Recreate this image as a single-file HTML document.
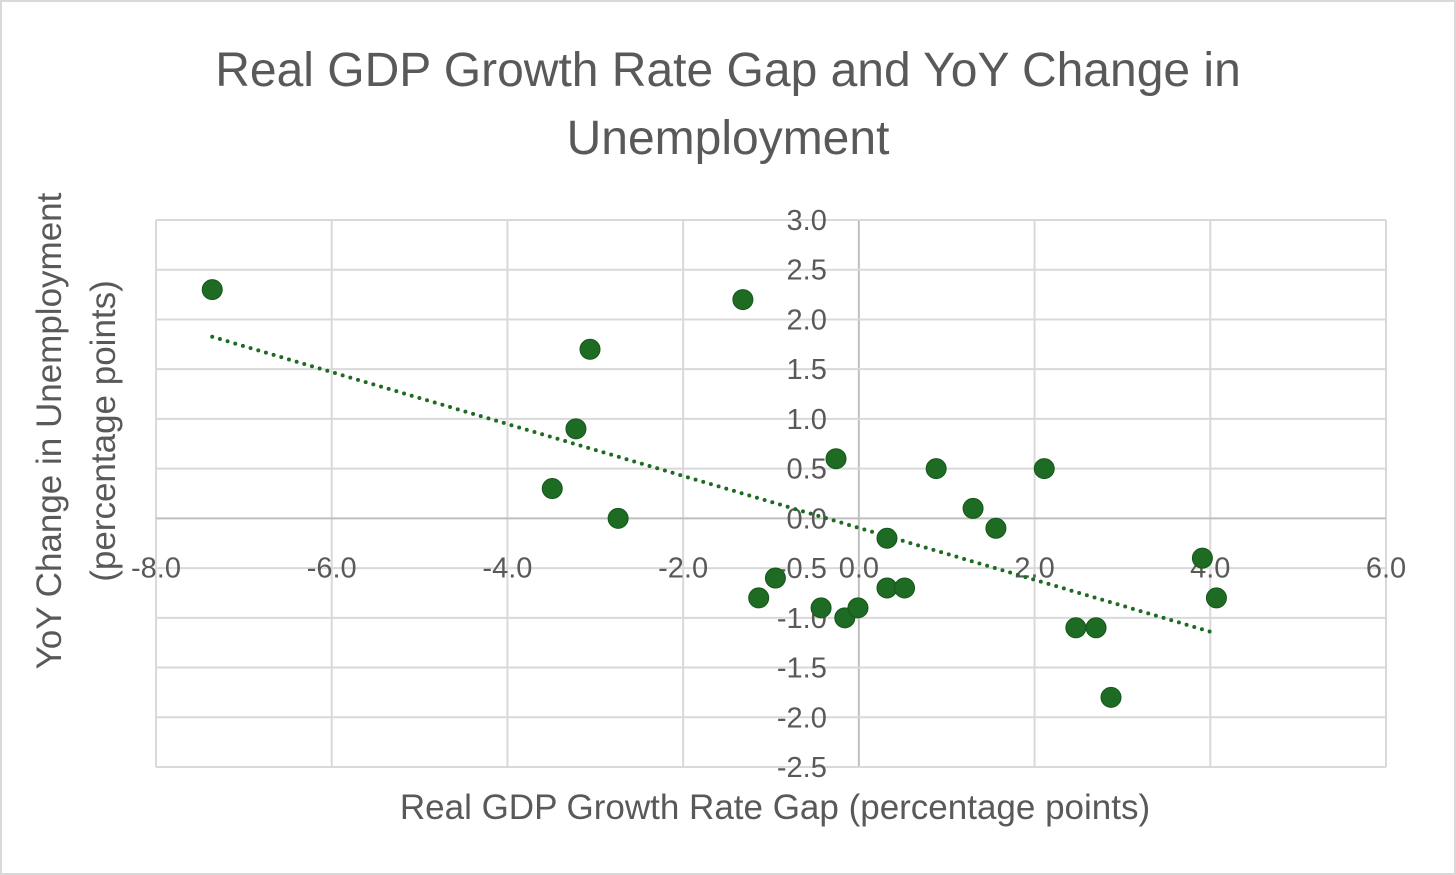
<!DOCTYPE html>
<html><head><meta charset="utf-8"><style>
body{margin:0;background:#fff;}
svg{display:block;font-family:"Liberation Sans",sans-serif;}
</style></head><body>
<svg id="chart" width="1456" height="875">
<rect x="1" y="1" width="1454" height="873" fill="#fff" stroke="#d9d9d9" stroke-width="2"/>
<text x="728" y="86" text-anchor="middle" font-size="48" fill="#595959">Real GDP Growth Rate Gap and YoY Change in</text>
<text x="728" y="154" text-anchor="middle" font-size="48" fill="#595959">Unemployment</text>
<g id="grid"></g><g id="axes"></g><g id="trend"></g><g id="pts"></g>
<text x="775" y="819" text-anchor="middle" font-size="35" fill="#595959">Real GDP Growth Rate Gap (percentage points)</text>
<text transform="translate(61,431) rotate(-90)" text-anchor="middle" font-size="35" fill="#595959">YoY Change in Unemployment</text>
<text transform="translate(115,431) rotate(-90)" text-anchor="middle" font-size="35" fill="#595959">(percentage points)</text>
</svg>
<script>
const xTicks=[-8,-6,-4,-2,0,2,4,6];
const yTicks=[3,2.5,2,1.5,1,0.5,0,-0.5,-1,-1.5,-2,-2.5];
const gapValues=[-7.36,-1.32,-3.06,-3.22,-3.49,-2.74,-0.26,-1.14,-0.95,-0.43,-0.16,-0.01,0.32,0.32,0.52,0.88,1.30,1.56,2.11,2.47,2.70,2.87,3.91,4.07];
const unempValues=[2.3,2.2,1.7,0.9,0.3,0.0,0.6,-0.8,-0.6,-0.9,-1.0,-0.9,-0.2,-0.7,-0.7,0.5,0.1,-0.1,0.5,-1.1,-1.1,-1.8,-0.4,-0.8];
const NS="http://www.w3.org/2000/svg";
const X0=156,X1=1386,Y0=767,Y1=220;
const xs=v=>X0+(v+8)/14*(X1-X0);
const ys=v=>Y0-(v+2.5)/5.5*(Y0-Y1);
function mk(t,a,p){const e=document.createElementNS(NS,t);for(const k in a)e.setAttribute(k,a[k]);p.appendChild(e);return e;}
const grid=document.getElementById('grid'),axes=document.getElementById('axes');
xTicks.forEach(t=>{const l=mk('line',{x1:xs(t),x2:xs(t),y1:Y1,y2:Y0,stroke:t===0?'#bfbfbf':'#d9d9d9','stroke-width':2},grid);


const tx=mk('text',{x:xs(t),y:ys(0)+59,'text-anchor':'middle','font-size':29,fill:'#595959'},axes);tx.textContent=t.toFixed(1);

});
yTicks.forEach(t=>{const l=mk('line',{x1:X0,x2:X1,y1:ys(t),y2:ys(t),stroke:t===0?'#bfbfbf':'#d9d9d9','stroke-width':2},grid);


const tx=mk('text',{x:xs(0)-32,y:ys(t)+10,'text-anchor':'end','font-size':29,fill:'#595959'},axes);tx.textContent=t.toFixed(1);

});
const n=gapValues.length;let mx=0,my=0;gapValues.forEach((v,i)=>{mx+=v;my+=unempValues[i];});mx/=n;my/=n;
let sxy=0,sxx=0;gapValues.forEach((v,i)=>{sxy+=(v-mx)*(unempValues[i]-my);sxx+=(v-mx)*(v-mx);});
const b=sxy/sxx,a=my-b*mx;const xmin=Math.min(...gapValues),xmax=Math.max(...gapValues);
const tl=mk('line',{x1:xs(xmin),y1:ys(a+b*xmin),x2:xs(xmax),y2:ys(a+b*xmax),stroke:'#1e6b23','stroke-width':4,'stroke-dasharray':'0 8','stroke-linecap':'round'},document.getElementById('trend'));


const pts=document.getElementById('pts');
gapValues.forEach((v,i)=>{const c=mk('circle',{cx:xs(v),cy:ys(unempValues[i]),r:10,fill:'#1e6b23',stroke:'#15561b','stroke-width':1},pts);

});
</script>
</body></html>
